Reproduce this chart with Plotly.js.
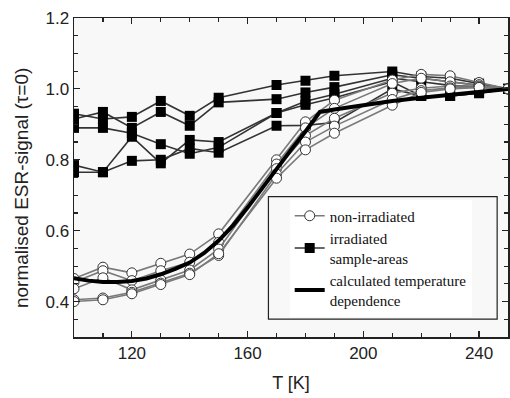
<!DOCTYPE html>
<html><head><meta charset="utf-8">
<script src="https://cdn.plot.ly/plotly-3.0.1.min.js"></script>
<style>html,body{margin:0;padding:0;background:#fff}#c{width:510px;height:398px}</style>
</head><body><div id="c"></div>
<script>
var temps = [100,110,120,130,140,150,170,180,190,210,220,230,240,250];

var irr1 = [0.930,0.915,0.921,0.966,0.924,0.975,1.011,1.023,1.037,1.049,1.035,1.030,1.015,1.0];
var irr2 = [0.915,0.935,0.890,0.935,0.896,0.962,0.971,0.990,1.005,1.040,1.030,1.020,1.010,1.0];
var irr3 = [0.890,0.890,0.875,0.844,0.817,0.835,0.932,0.965,0.985,1.030,1.020,1.010,1.005,1.0];
var irr4 = [0.785,0.765,0.865,0.790,0.856,0.850,0.932,0.955,0.975,1.020,0.980,0.980,0.988,1.0];
var irr5 = [0.765,0.765,0.797,0.800,0.832,0.820,0.896,0.897,0.905,1.000,0.980,0.980,0.988,1.0];

var non1 = [0.465,0.497,0.481,0.508,0.534,0.591,0.800,0.907,0.968,1.025,1.041,1.037,1.018,1.0];
var non2 = [0.455,0.487,0.459,0.487,0.511,0.567,0.788,0.890,0.945,1.015,1.030,1.020,1.012,1.0];
var non3 = [0.436,0.467,0.433,0.461,0.489,0.548,0.775,0.868,0.917,0.988,1.002,1.008,1.008,1.0];
var non4 = [0.405,0.410,0.426,0.452,0.480,0.530,0.760,0.850,0.895,0.970,0.995,1.003,1.005,1.0];
var non5 = [0.400,0.405,0.422,0.448,0.476,0.535,0.748,0.828,0.875,0.954,0.990,1.000,1.004,1.0];

var calcT = [100,105,110,115,120,125,130,135,140,145,150,155,160,165,170,175,180,185,190,200,210,220,230,240,250];
var calcV = [0.466,0.459,0.455,0.455,0.458,0.465,0.477,0.492,0.510,0.537,0.572,0.615,0.665,0.720,0.775,0.828,0.880,0.935,0.942,0.955,0.966,0.975,0.983,0.991,1.000];

var legendNames = ["non-irradiated","irradiated<br>sample-areas","calculated temperature<br>dependence"];
var yTitle = 'normalised ESR-signal (\u03c4=0)';
var xTitle = 'T [K]';

var traces = [];
[irr1,irr2,irr3,irr4,irr5].forEach(function(s,i){
  traces.push({x:temps,y:s,type:'scatter',mode:'lines+markers',
    name:legendNames[1],legendrank:2,showlegend:i===0,
    line:{color:'#333333',width:1.6},
    marker:{symbol:'square',size:10,color:'#000000',line:{width:0}}});
});
[non1,non2,non3,non4,non5].forEach(function(s,i){
  traces.push({x:temps,y:s,type:'scatter',mode:'lines+markers',
    name:legendNames[0],legendrank:1,showlegend:i===0,
    line:{color:'#7a7a7a',width:1.6},
    marker:{symbol:'circle',size:10,color:'#ffffff',line:{color:'#333333',width:1}}});
});
traces.push({x:calcT,y:calcV,type:'scatter',mode:'lines',name:legendNames[2],legendrank:3,
  line:{color:'#000000',width:4}});

var axisFont = {family:'Liberation Sans, Arial, sans-serif',size:17,color:'#222'};
var layout = {
  width:510,height:398,
  margin:{l:74,r:2,t:18,b:61},
  paper_bgcolor:'#ffffff',plot_bgcolor:'#f8f8f8',
  showlegend:true,
  font:{family:'Liberation Sans, Arial, sans-serif'},
  legend:{x:0.497,y:0.431,xanchor:'left',yanchor:'top',bgcolor:'#ffffff',borderwidth:0,
    font:{family:'Liberation Serif',size:15,color:'#111'},
    tracegroupgap:0,itemwidth:30},
  xaxis:{range:[100,250],tick0:0,dtick:40,ticks:'inside',ticklen:6,tickwidth:1.2,tickcolor:'#222',
    showline:true,linecolor:'#222',linewidth:1.5,mirror:'ticks',showgrid:false,zeroline:false,
    minor:{dtick:10,ticks:'inside',ticklen:4,tickcolor:'#222',showgrid:false},
    tickfont:axisFont,
    title:{text:xTitle,font:{family:'Liberation Sans, Arial, sans-serif',size:18,color:'#222'},standoff:14}},
  yaxis:{range:[0.3,1.2],tick0:0,dtick:0.2,tickformat:'.1f',ticks:'inside',ticklen:6,tickwidth:1.2,tickcolor:'#222',
    showline:true,linecolor:'#222',linewidth:1.5,mirror:'ticks',showgrid:false,zeroline:false,
    minor:{dtick:0.05,ticks:'inside',ticklen:4,tickcolor:'#222',showgrid:false},
    tickfont:axisFont},
  annotations:[{text:yTitle,xref:'paper',yref:'paper',x:0,y:0.467,xanchor:'center',yanchor:'middle',
    xshift:-53,textangle:-90,showarrow:false,
    font:{family:'Liberation Sans, Arial, sans-serif',size:19,color:'#222'}}],
  shapes:[{type:'rect',xref:'paper',yref:'paper',x0:0.448,x1:0.975,y0:0.056,y1:0.44,
    line:{color:'#222',width:1.2},fillcolor:'rgba(0,0,0,0)',layer:'above'}]
};
Plotly.newPlot('c',traces,layout,{displayModeBar:false,staticPlot:true});
</script></body></html>
